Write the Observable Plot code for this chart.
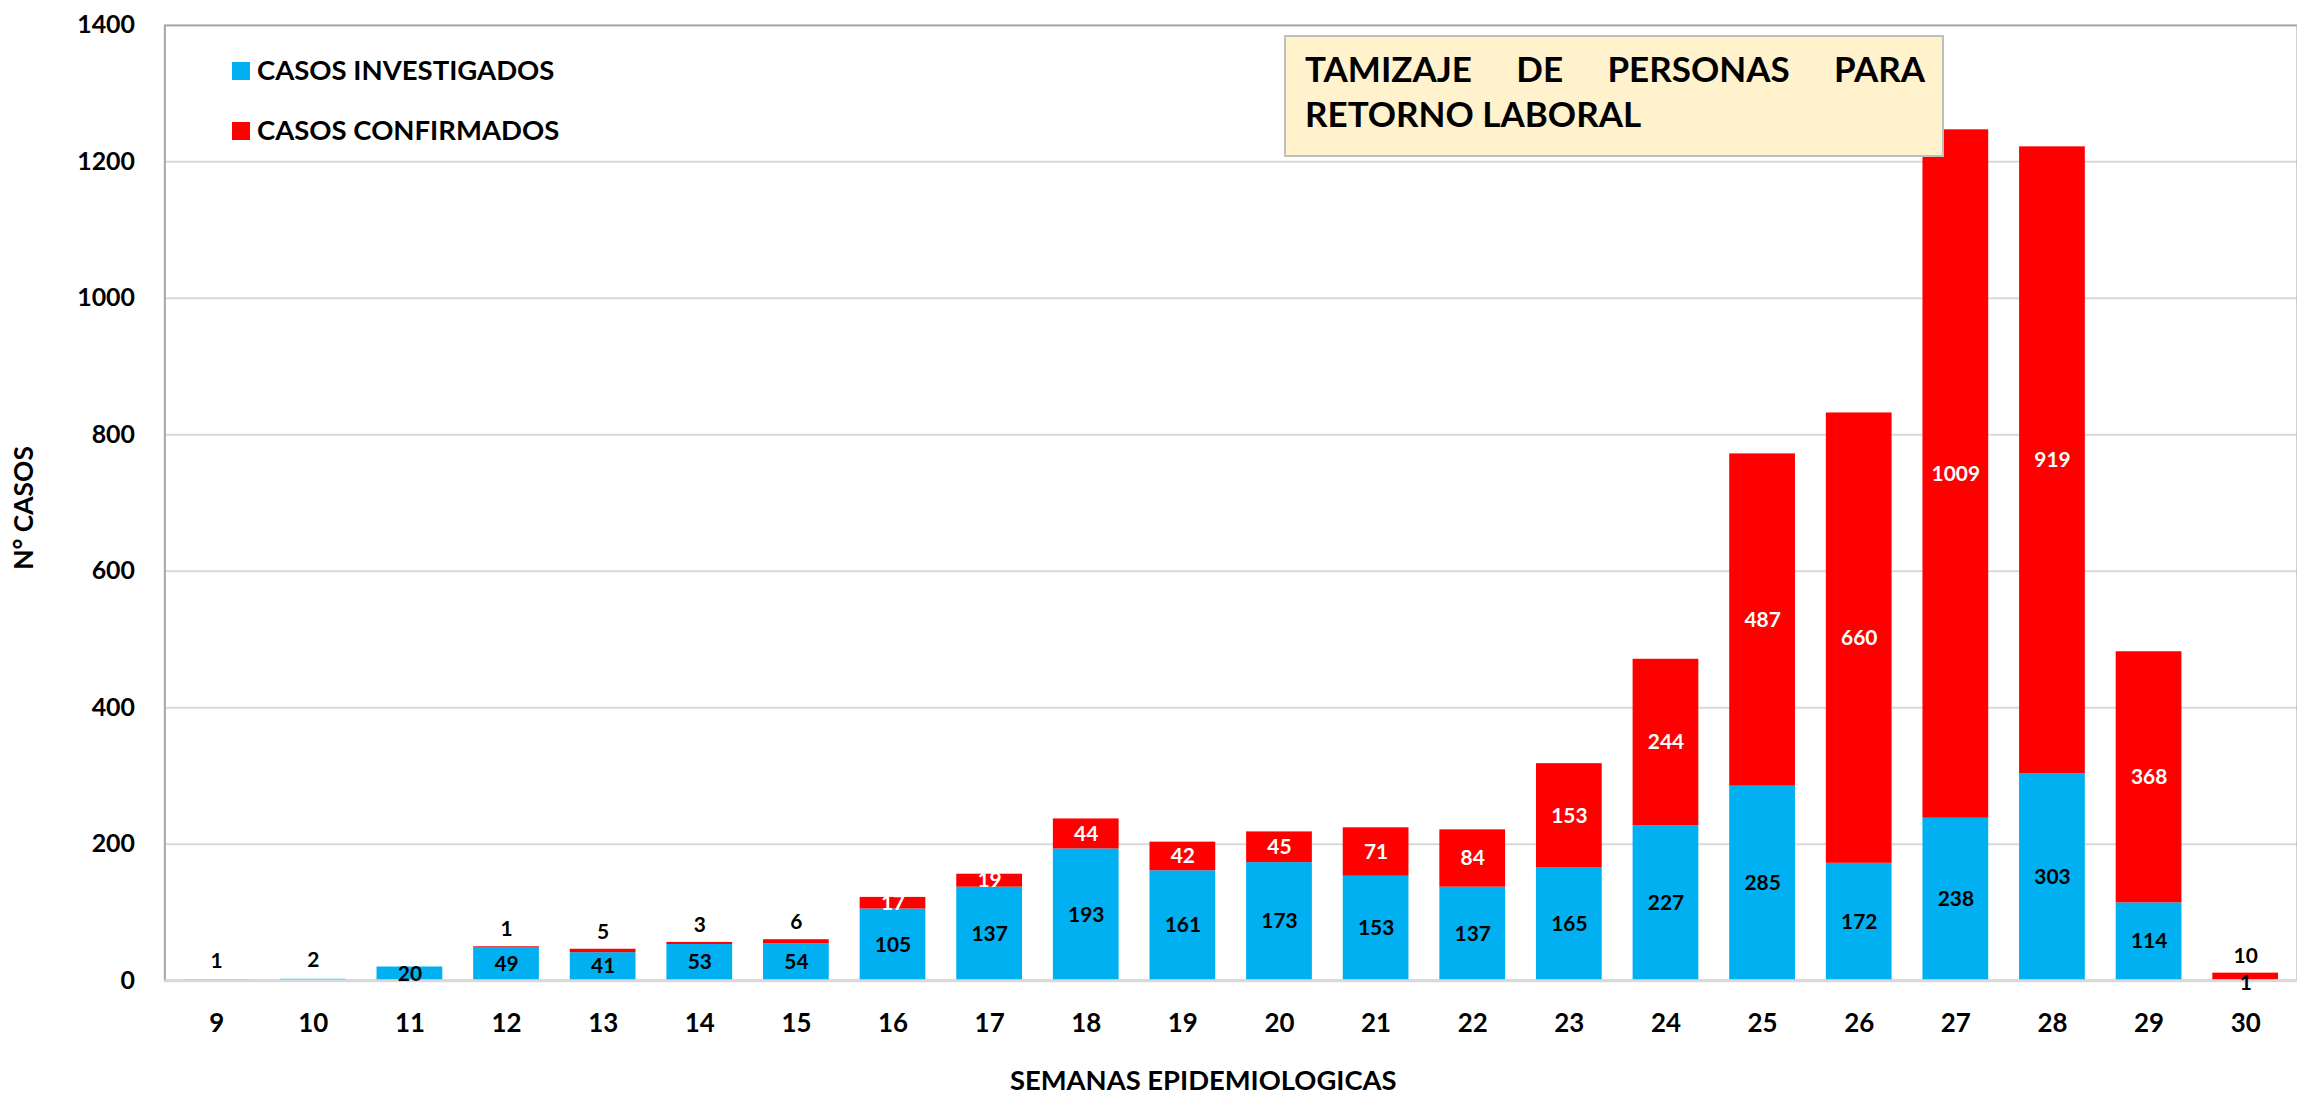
<!DOCTYPE html>
<html>
<head>
<meta charset="utf-8">
<script src="https://cdn.jsdelivr.net/npm/d3@7"></script>
<script src="https://cdn.jsdelivr.net/npm/@observablehq/plot@0.6"></script>
<style>
  html, body { margin: 0; padding: 0; overflow: hidden; background: #fff; }
  #wrap { position: relative; width: 2297px; height: 1110px; overflow: hidden; font-family: Lato, "Liberation Sans", sans-serif; font-weight: bold; }
  #chart { position: absolute; left: 0; top: 0; }
  .sw { position: absolute; left: 232px; width: 18px; height: 18px; }
  .leg { position: absolute; left: 257px; font-size: 27.5px; line-height: 27.5px; color: #000; white-space: nowrap; }
  #titlebox { position: absolute; left: 1284px; top: 35px; width: 656px; height: 118px; background: #FFF2CC; border: 2px solid #BFBFBF; box-sizing: content-box; }
  #titlebox div { position: absolute; left: 19px; width: 620px; font-size: 35px; line-height: 35px; color: #000; white-space: nowrap; }
  #t1 { top: 14px; text-align: justify; text-align-last: justify; white-space: normal !important; }
  #t2 { top: 59px; text-align: left; }
</style>
</head>
<body>
<div id="wrap">
  <div id="chart"></div>
  <div class="sw" style="top:62px;background:#00B0F0"></div>
  <div class="leg" style="top:56px">CASOS INVESTIGADOS</div>
  <div class="sw" style="top:122px;background:#FF0000"></div>
  <div class="leg" style="top:116px">CASOS CONFIRMADOS</div>
  <div id="titlebox"><div id="t1">TAMIZAJE DE PERSONAS PARA</div><div id="t2">RETORNO LABORAL</div></div>
</div>
<script>
const weeks = [9, 10, 11, 12, 13, 14, 15, 16, 17, 18, 19, 20, 21, 22, 23, 24, 25, 26, 27, 28, 29, 30];
const investigated = [1, 2, 20, 49, 41, 53, 54, 105, 137, 193, 161, 173, 153, 137, 165, 227, 285, 172, 238, 303, 114, 1];
const confirmed = [0, 0, 0, 1, 5, 3, 6, 17, 19, 44, 42, 45, 71, 84, 153, 244, 487, 660, 1009, 919, 368, 10];
const yTicks = [0, 200, 400, 600, 800, 1000, 1200, 1400];
const seriesNames = ["CASOS INVESTIGADOS", "CASOS CONFIRMADOS"];
const xTitle = "SEMANAS EPIDEMIOLOGICAS";
const yTitle = "N° CASOS";

const rows = weeks.map((w, i) => ({week: w, inv: investigated[i], conf: confirmed[i]}));
const BLUE = "#00B0F0", RED = "#FF0000";
const LBL = 21;

const chart = Plot.plot({
  width: 2306,
  height: 1110,
  marginLeft: 165,
  marginRight: 0,
  marginTop: 25,
  marginBottom: 126,
  style: {fontFamily: "Lato, 'Liberation Sans', sans-serif", fontWeight: "bold", fontSize: "26px", color: "#000", background: "transparent", overflow: "visible"},
  x: {type: "band", domain: weeks, paddingInner: 0.32, paddingOuter: 0.16, align: 0.5},
  y: {domain: [0, 1400]},
  marks: [
    Plot.ruleY(yTicks.filter(t => t > 0 && t < 1400), {stroke: "#D9D9D9", strokeWidth: 2}),
    Plot.frame({stroke: "#A6A6A6", strokeWidth: 2}),
    Plot.barY(rows, {x: "week", y1: 0, y2: "inv", fill: BLUE, title: d => `${seriesNames[0]}: ${d.inv}`}),
    Plot.barY(rows, {x: "week", y1: "inv", y2: d => d.inv + d.conf, fill: RED, title: d => `${seriesNames[1]}: ${d.conf}`}),
    Plot.ruleY([0], {stroke: "#D9D9D9", strokeWidth: 3}),
    Plot.axisY({ticks: yTicks, tickSize: 0, tickPadding: 30, tickFormat: d => String(d), fontSize: 25, label: null}),
    Plot.axisX({tickSize: 0, tickPadding: 33, fontSize: 26, label: null}),
    // investigated labels
    Plot.text(rows.filter(d => d.inv >= 10), {x: "week", y: d => d.inv / 2, text: d => String(d.inv), fill: "#000", fontSize: LBL, fontWeight: "bold"}),
    Plot.text(rows.filter(d => d.inv < 10 && d.conf === 0), {x: "week", y: "inv", text: d => String(d.inv), fill: "#000", fontSize: LBL, fontWeight: "bold", dy: -19}),
    Plot.text(rows.filter(d => d.inv < 10 && d.conf > 0), {x: "week", y: 0, text: d => String(d.inv), fill: "#000", fontSize: LBL, fontWeight: "bold", dy: 3}),
    // confirmed labels
    Plot.text(rows.filter(d => d.conf > 10), {x: "week", y: d => d.inv + d.conf / 2, text: d => String(d.conf), fill: "#fff", fontSize: LBL, fontWeight: "bold"}),
    Plot.text(rows.filter(d => d.conf > 0 && d.conf <= 10), {x: "week", y: d => d.inv + d.conf, text: d => String(d.conf), fill: "#000", fontSize: LBL, fontWeight: "bold", dy: -17}),
    // axis titles
    Plot.text([xTitle], {frameAnchor: "bottom", text: d => d, fontSize: 27.5, fontWeight: "bold", lineAnchor: "middle", textAnchor: "middle", dx: -28, dy: 101}),
    Plot.text([yTitle], {frameAnchor: "left", text: d => d, fontSize: 26.5, fontWeight: "bold", rotate: -90, textAnchor: "middle", lineAnchor: "middle", dx: -141, dy: 5})
  ]
});
document.getElementById("chart").appendChild(chart);
</script>
</body>
</html>
